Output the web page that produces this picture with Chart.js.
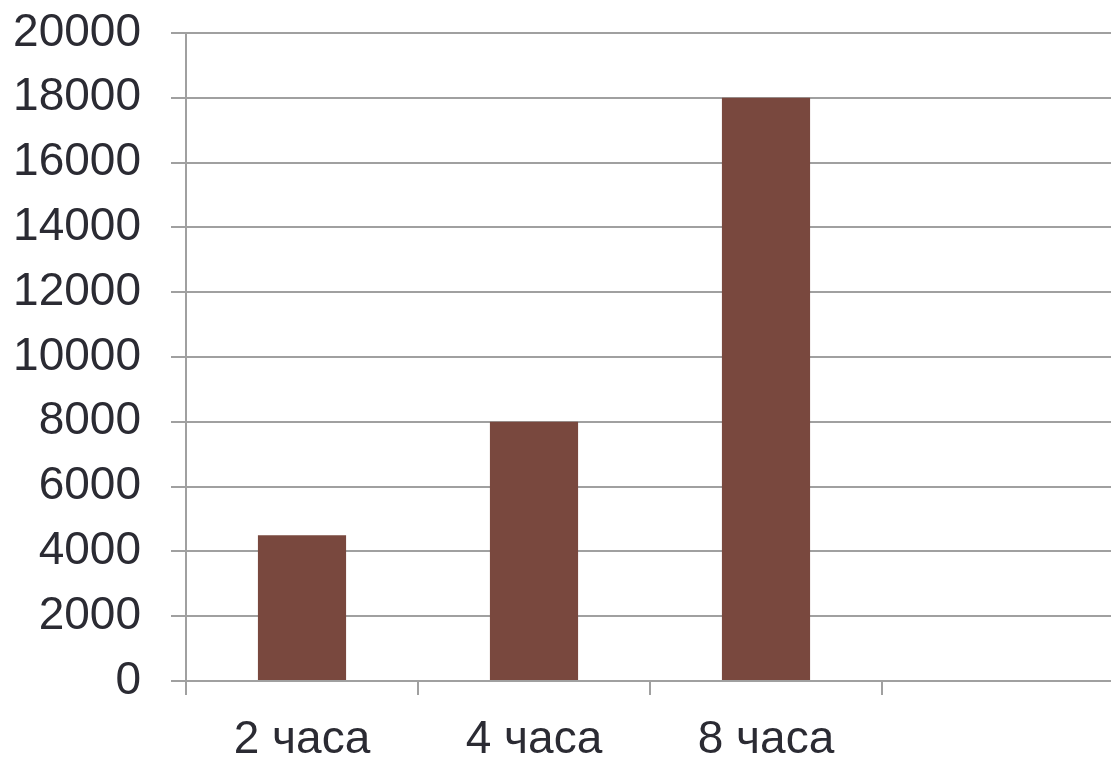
<!DOCTYPE html>
<html>
<head>
<meta charset="utf-8">
<script src="https://cdn.jsdelivr.net/npm/chart.js@4/dist/chart.umd.min.js"></script>
<style>
  html, body { margin: 0; padding: 0; background: #fff; overflow: hidden; }
  #wrap { width: 1114px; height: 758px; }
</style>
</head>
<body>
<div id="wrap"><canvas id="grafico"></canvas></div>
<script>
const categorias = ['2 часа', '4 часа', '8 часа', ''];
const valores    = [4500, 8000, 18000, null];
const ejeY       = { min: 0, max: 20000, paso: 2000 };

const GRIS  = '#a0a0a0';
const TEXTO = '#2b2b33';
const FUENTE = { family: '"Liberation Sans", Arial, sans-serif', size: 46 };

new Chart(document.getElementById('grafico'), {
  type: 'bar',
  data: {
    labels: categorias,
    datasets: [{
      data: valores,
      backgroundColor: '#79483e',
      borderWidth: 0,
      categoryPercentage: 1,
      barPercentage: 0.38
    }]
  },
  options: {
    responsive: true,
    maintainAspectRatio: false,
    devicePixelRatio: 1,
    animation: false,
    layout: { autoPadding: false, padding: { top: 33, right: 0, bottom: 0, left: 0 } },
    plugins: { legend: { display: false }, tooltip: { enabled: false } },
    scales: {
      x: {
        offset: true,
        grid: { offset: true, drawOnChartArea: false, color: GRIS, lineWidth: 2, tickLength: 14 },
        border: { color: GRIS, width: 2 },
        ticks: { color: TEXTO, font: FUENTE, padding: 18, maxRotation: 0, autoSkip: false },
        afterFit: (s) => { s.height = 77; s.paddingLeft = 0; s.paddingRight = 0; }
      },
      y: {
        min: ejeY.min,
        max: ejeY.max,
        grid: { color: GRIS, lineWidth: 2, tickLength: 15 },
        border: { color: GRIS, width: 2 },
        ticks: {
          stepSize: ejeY.paso, color: TEXTO, font: FUENTE, padding: 30,
          callback: (v) => String(v)
        },
        afterFit: (s) => { s.width = 186; s.paddingTop = 0; s.paddingBottom = 0; }
      }
    }
  }
});
</script>
</body>
</html>
